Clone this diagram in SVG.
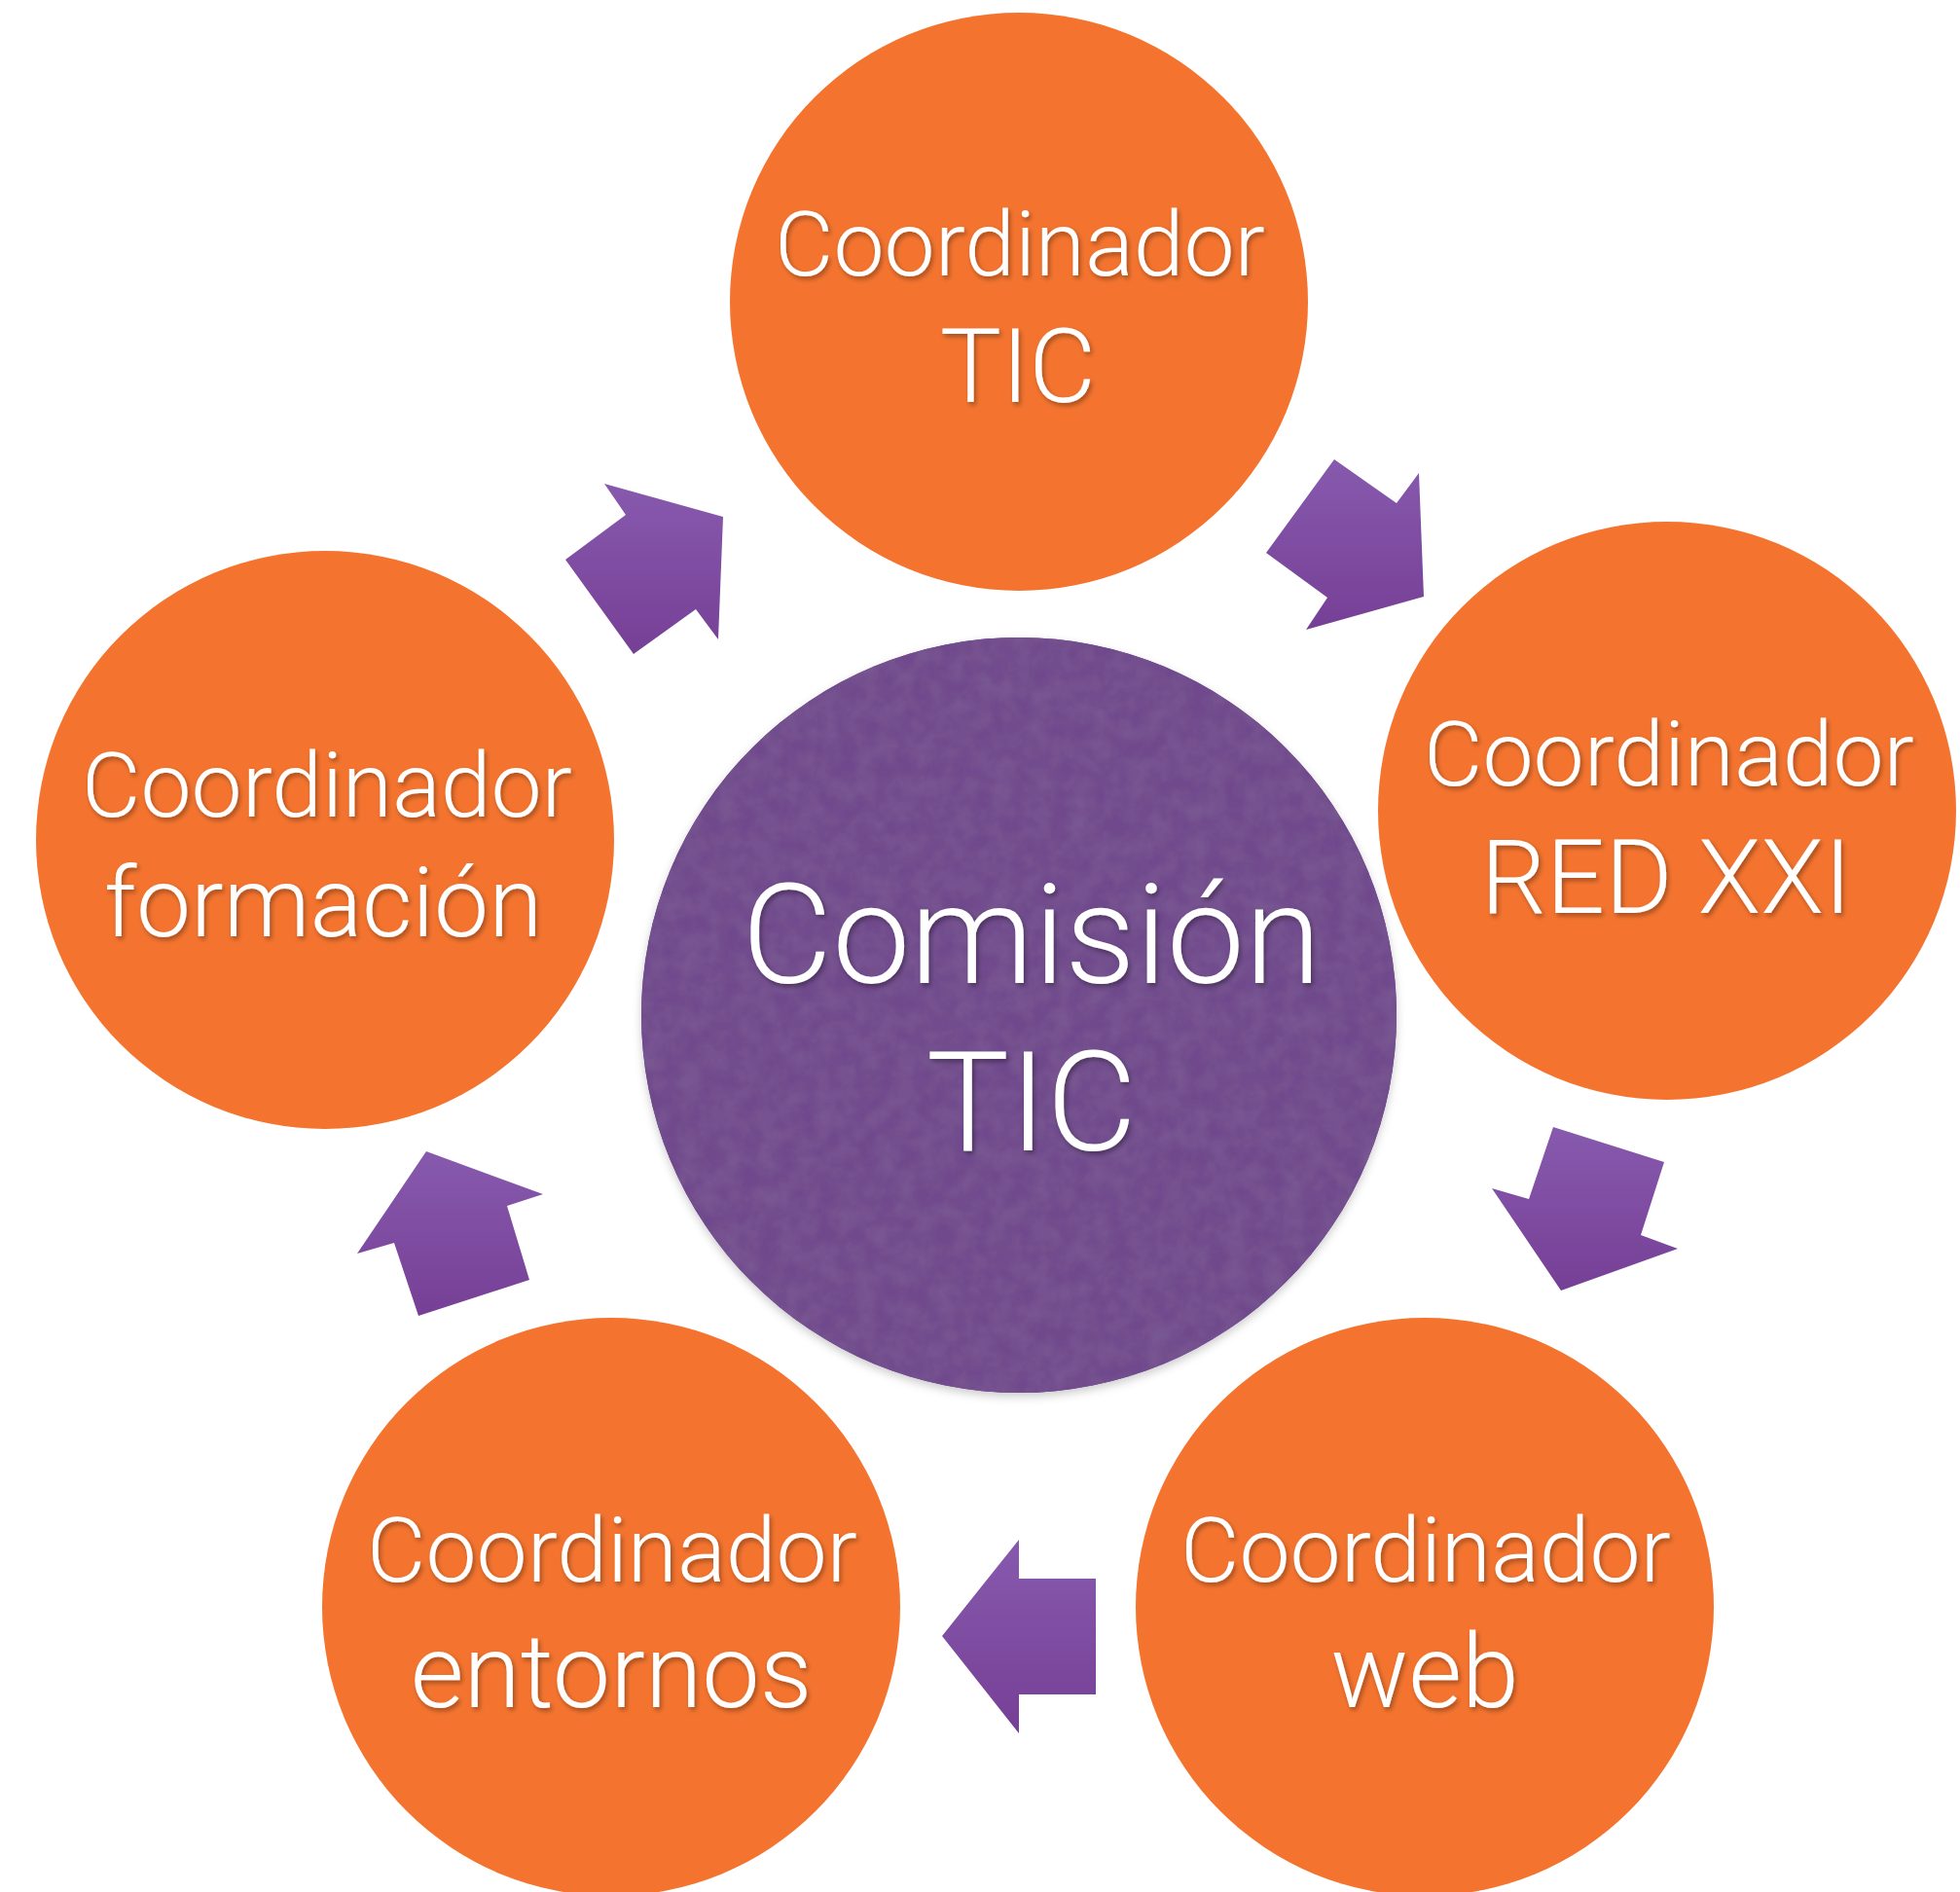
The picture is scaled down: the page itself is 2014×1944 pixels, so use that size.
<svg xmlns="http://www.w3.org/2000/svg" width="2014" height="1944" viewBox="0 0 2014 1944">
<defs>
<linearGradient id="arrowGrad" x1="0" y1="0" x2="0" y2="1">
<stop offset="0" stop-color="#875aae"/>
<stop offset="1" stop-color="#763f96"/>
</linearGradient>
<filter id="txtShadow" x="-10%" y="-20%" width="120%" height="150%">
<feDropShadow dx="2" dy="3" stdDeviation="2.5" flood-color="#000" flood-opacity="0.35"/>
</filter>
<filter id="paper" x="-5%" y="-5%" width="110%" height="110%">
<feTurbulence type="fractalNoise" baseFrequency="0.05" numOctaves="3" seed="4" result="noise"/>
<feColorMatrix in="noise" type="matrix" values="0 0 0 0 1  0 0 0 0 1  0 0 0 0 1  0 0 0 0.05 -0.01" result="tex"/>
<feComposite in="tex" in2="SourceGraphic" operator="in" result="texIn"/>
<feMerge><feMergeNode in="SourceGraphic"/><feMergeNode in="texIn"/></feMerge>
</filter>
<filter id="circShadow" x="-10%" y="-10%" width="120%" height="125%">
<feDropShadow dx="0" dy="4" stdDeviation="5" flood-color="#000" flood-opacity="0.2"/>
</filter>
</defs>
<style>
.orange { fill: #f4742f; }
.purple { fill: #704a8c; }
.arrow { fill: url(#arrowGrad); }
.lbl { fill: #ffffff; font-family: "Helvetica Neue", Roboto, "Liberation Sans", sans-serif; font-weight: 300; text-anchor: middle; filter: url(#txtShadow); }
.l1 { font-size: 93px; }
.l2 { font-size: 106px; }
.big { font-size: 143px; }
</style>
<rect width="2014" height="1944" fill="#ffffff"/>

<g id="connectors">
<polygon class="arrow" points="621,497 743,531 738,657 715,626 651,672 581,575 643,529"/>
<polygon class="arrow" points="1371,472 1435,517 1458,486 1463,613 1342,647 1364,614 1301,568"/>
<polygon class="arrow" points="1596,1158 1710,1194 1686,1269 1724,1283 1604,1326 1533,1221 1571,1232"/>
<polygon class="arrow" points="1047,1582 1047,1622 1126,1622 1126,1741 1047,1741 1047,1781 968,1681"/>
<polygon class="arrow" points="438,1183 558,1227 521,1239 544,1315 430,1352 405,1277 367,1288"/>
</g>

<g id="node-comision">
<circle class="purple" cx="1047" cy="1043" r="388" filter="url(#circShadow)"/>
<circle class="purple" cx="1047" cy="1043" r="388" filter="url(#paper)"/>
<text class="lbl big" x="1060" y="1010">Comisión</text>
<text class="lbl big" x="1060" y="1182">TIC</text>
</g>

<g id="node-tic">
<circle class="orange" cx="1047" cy="310" r="297"/>
<text class="lbl l1" x="1048" y="283">Coordinador</text>
<text class="lbl l2" x="1046" y="413">TIC</text>
</g>

<g id="node-redxxi">
<circle class="orange" cx="1713" cy="833" r="297"/>
<text class="lbl l1" x="1715" y="807">Coordinador</text>
<text class="lbl l2" x="1712" y="938">RED XXI</text>
</g>

<g id="node-web">
<circle class="orange" cx="1464" cy="1651" r="297"/>
<text class="lbl l1" x="1465" y="1625">Coordinador</text>
<text class="lbl l2" x="1464" y="1754">web</text>
</g>

<g id="node-entornos">
<circle class="orange" cx="628" cy="1651" r="297"/>
<text class="lbl l1" x="629" y="1625">Coordinador</text>
<text class="lbl l2" x="628" y="1754">entornos</text>
</g>

<g id="node-formacion">
<circle class="orange" cx="334" cy="863" r="297"/>
<text class="lbl l1" x="336" y="839">Coordinador</text>
<text class="lbl" x="332" y="962" font-size="100">formación</text>
</g>
</svg>
